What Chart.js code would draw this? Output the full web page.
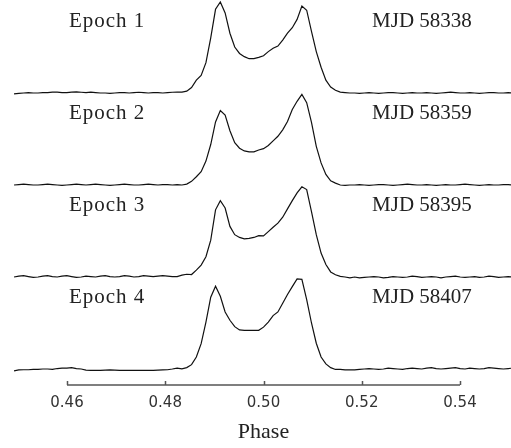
<!DOCTYPE html>
<html>
<head>
<meta charset="utf-8">
<script src="https://cdn.jsdelivr.net/npm/chart.js@4"></script>
<style>
  html, body { margin: 0; padding: 0; background: #fff; }
  #wrap { width: 511px; height: 448px; position: relative; }
</style>
</head>
<body>
<div id="wrap"><canvas id="profiles"></canvas></div>
<script>
// bins of 1/1024 in phase, first bin 460
const FIRST_BIN = 460;
const N_BINS = 1024;

const EPOCH_LABELS = ['Epoch 1', 'Epoch 2', 'Epoch 3', 'Epoch 4'];
const MJD_LABELS = ['MJD 58338', 'MJD 58359', 'MJD 58395', 'MJD 58407'];
const OFFSETS = [3, 2, 1, 0];
const TICKS = [0.46, 0.48, 0.50, 0.52, 0.54];

// normalised flux per bin (bins 460..564)
const EPOCH1 = [
  -0.01, -0.005, 0, 0.005, 0, 0, 0.005, 0.005, 0.01, 0.01,
  0.005, 0.005, 0.01, 0.012, 0.008, 0.005, 0.01, 0.005, 0, 0,
  -0.005, 0, 0.005, 0.005, 0, 0.005, 0.008, 0.005, 0, 0.005,
  0.005, 0, 0.005, 0.008, 0.01,
  0.01, 0.02, 0.06, 0.14, 0.19, 0.33, 0.6, 0.91, 0.99, 0.87,
  0.65, 0.5, 0.43, 0.395, 0.373, 0.373, 0.388, 0.405, 0.45, 0.486,
  0.51, 0.576, 0.65, 0.71, 0.8, 0.945, 0.9, 0.67, 0.45, 0.28,
  0.14, 0.065, 0.03, 0.01, 0.005, 0,
  0, -0.005, 0, 0.005, 0, -0.005, 0, 0.005, 0.005, 0,
  -0.005, 0, 0.005, 0, 0, 0.005, 0, -0.005, 0, 0.005,
  0.01, 0.005, 0, 0, 0.005, 0, -0.005, 0, 0.005, 0.005,
  0, 0, 0.005, 0,
];
const EPOCH2 = [
  0, 0.005, 0.01, 0.005, 0, 0, 0.005, 0.01, 0.005, 0,
  -0.005, 0, 0.005, 0.01, 0.005, 0, 0.005, 0.01, 0.005, 0,
  -0.005, 0, 0.005, 0.01, 0.005, 0, 0, 0.005, 0.01, 0.005,
  0, 0.005, 0.005, 0, 0.005,
  0, 0.01, 0.04, 0.09, 0.145, 0.26, 0.44, 0.685, 0.81, 0.76,
  0.59, 0.46, 0.4, 0.37, 0.36, 0.36, 0.38, 0.395, 0.43, 0.48,
  0.53, 0.6, 0.69, 0.82, 0.91, 0.985, 0.895, 0.68, 0.42, 0.24,
  0.115, 0.045, 0.02, 0, -0.005, 0,
  0, 0.005, 0, -0.005, 0, 0.005, 0.005, 0, -0.005, 0,
  0.005, 0.01, 0.005, 0, 0, 0.005, 0, -0.005, 0, 0.005,
  0, 0, 0.005, 0.01, 0.005, 0, -0.005, 0, 0.005, 0,
  0, 0.005, 0.005, 0,
];
const EPOCH3 = [
  0, 0.01, 0.015, 0.005, -0.005, 0, 0.01, 0.015, 0.005, 0,
  0.01, 0.015, 0.005, -0.005, 0, 0.01, 0.005, 0, 0.01, 0.015,
  0.005, 0, 0.005, 0.015, 0.01, 0, 0.005, 0.015, 0.01, 0.005,
  0.01, 0.015, 0.01, 0.005, 0.005,
  0.02, 0.03, 0.027, 0.075, 0.13, 0.22, 0.4, 0.73, 0.83, 0.75,
  0.55, 0.46, 0.43, 0.415, 0.42, 0.43, 0.449, 0.446, 0.493, 0.54,
  0.585, 0.65, 0.74, 0.83, 0.915, 0.98, 0.95, 0.71, 0.46, 0.26,
  0.135, 0.055, 0.025, 0.007, 0, -0.01,
  0, -0.01, -0.005, 0, 0.005, 0, -0.01, -0.005, 0.005, 0,
  -0.005, 0, 0.01, 0.005, -0.005, 0, 0.005, 0, -0.01, 0,
  0.005, 0.01, 0, -0.005, 0, 0.005, -0.005, 0, 0.01, 0.005,
  -0.005, 0, 0.005, 0,
];
const EPOCH4 = [
  -0.02, -0.01, -0.008, -0.008, -0.005, -0.005, 0, 0, -0.005, 0.005,
  0.01, 0.01, 0.015, 0.005, 0, -0.012, -0.015, -0.015, -0.015, -0.012,
  -0.01, -0.012, -0.015, -0.015, -0.015, -0.015, -0.015, -0.015, -0.015, -0.015,
  -0.012, -0.01, -0.008, 0, 0.01,
  0.002, 0.015, 0.047, 0.13, 0.275, 0.51, 0.78, 0.9, 0.79, 0.62,
  0.53, 0.46, 0.425, 0.42, 0.42, 0.42, 0.42, 0.455, 0.51, 0.58,
  0.62, 0.715, 0.81, 0.895, 0.98, 0.975, 0.755, 0.5, 0.28, 0.13,
  0.055, 0.015, -0.005, -0.005, -0.01, -0.01,
  -0.01, -0.005, 0, 0.005, 0, -0.005, 0, 0.01, 0.005, 0,
  -0.005, 0.005, 0.01, 0.005, 0, 0.01, 0.015, 0.005, 0, 0.005,
  0.01, 0.015, 0.005, 0, 0.01, 0.005, 0, 0.005, 0.015, 0.01,
  0.005, 0, 0.005, 0.01,
];

const SERIES = [EPOCH1, EPOCH2, EPOCH3, EPOCH4];
const PHASES = EPOCH1.map((_, i) => (FIRST_BIN + i) / N_BINS);

const LABEL_LIFT = 0.714;
const LABEL_X_EPOCH = 0.4604;
const LABEL_X_MJD = 0.5221;

const overlay = {
  id: 'overlay',
  afterDraw(chart) {
    const { ctx, chartArea, scales: { x, y } } = chart;
    const y0 = chartArea.bottom;
    ctx.save();
    ctx.strokeStyle = '#555';
    ctx.lineWidth = 1.5;
    ctx.beginPath();
    ctx.moveTo(x.getPixelForValue(TICKS[0]), y0);
    ctx.lineTo(x.getPixelForValue(TICKS[TICKS.length - 1]), y0);
    TICKS.forEach((t) => {
      const px = Math.round(x.getPixelForValue(t)) + 0.5;
      ctx.moveTo(px, y0);
      ctx.lineTo(px, y0 - 4);
    });
    ctx.stroke();

    ctx.fillStyle = '#222';
    ctx.font = '21px "Liberation Serif"';
    ctx.textAlign = 'left';
    ctx.textBaseline = 'alphabetic';
    EPOCH_LABELS.forEach((label, j) => {
      const py = y.getPixelForValue(OFFSETS[j] + LABEL_LIFT);
      ctx.letterSpacing = '1px';
      ctx.fillText(label, x.getPixelForValue(LABEL_X_EPOCH), py);
      ctx.letterSpacing = '0px';
      ctx.fillText(MJD_LABELS[j], x.getPixelForValue(LABEL_X_MJD), py);
    });

    ctx.font = '22px "Liberation Serif"';
    ctx.textAlign = 'center';
    ctx.textBaseline = 'middle';
    ctx.fillText('Phase', x.getPixelForValue(0.5), 432);
    ctx.restore();
  },
};

new Chart(document.getElementById('profiles'), {
  type: 'line',
  data: {
    datasets: SERIES.map((vals, j) => ({
      label: EPOCH_LABELS[j],
      data: PHASES.map((p, i) => ({ x: p, y: OFFSETS[j] + vals[i] })),
      borderColor: '#111',
      borderWidth: 1.2,
      pointRadius: 0,
      tension: 0,
      fill: false,
    })),
  },
  options: {
    responsive: true,
    maintainAspectRatio: false,
    animation: false,
    layout: { padding: 0 },
    plugins: {
      legend: { display: false },
      tooltip: { enabled: false },
    },
    scales: {
      x: {
        type: 'linear',
        min: 0.44636,
        max: 0.55038,
        border: { display: false },
        grid: { display: false, drawTicks: false },
        afterBuildTicks: (scale) => {
          scale.ticks = TICKS.map((v) => ({ value: v }));
        },
        afterFit: (scale) => { scale.height = 63; },
        ticks: {
          autoSkip: false,
          maxRotation: 0,
          padding: 9,
          color: '#333',
          font: { family: 'DejaVu Sans', size: 15 },
          callback: (v) => Number(v).toFixed(2),
        },
      },
      y: {
        display: false,
        min: -0.174,
        max: 4.011,
      },
    },
  },
  plugins: [overlay],
});
</script>
</body>
</html>
